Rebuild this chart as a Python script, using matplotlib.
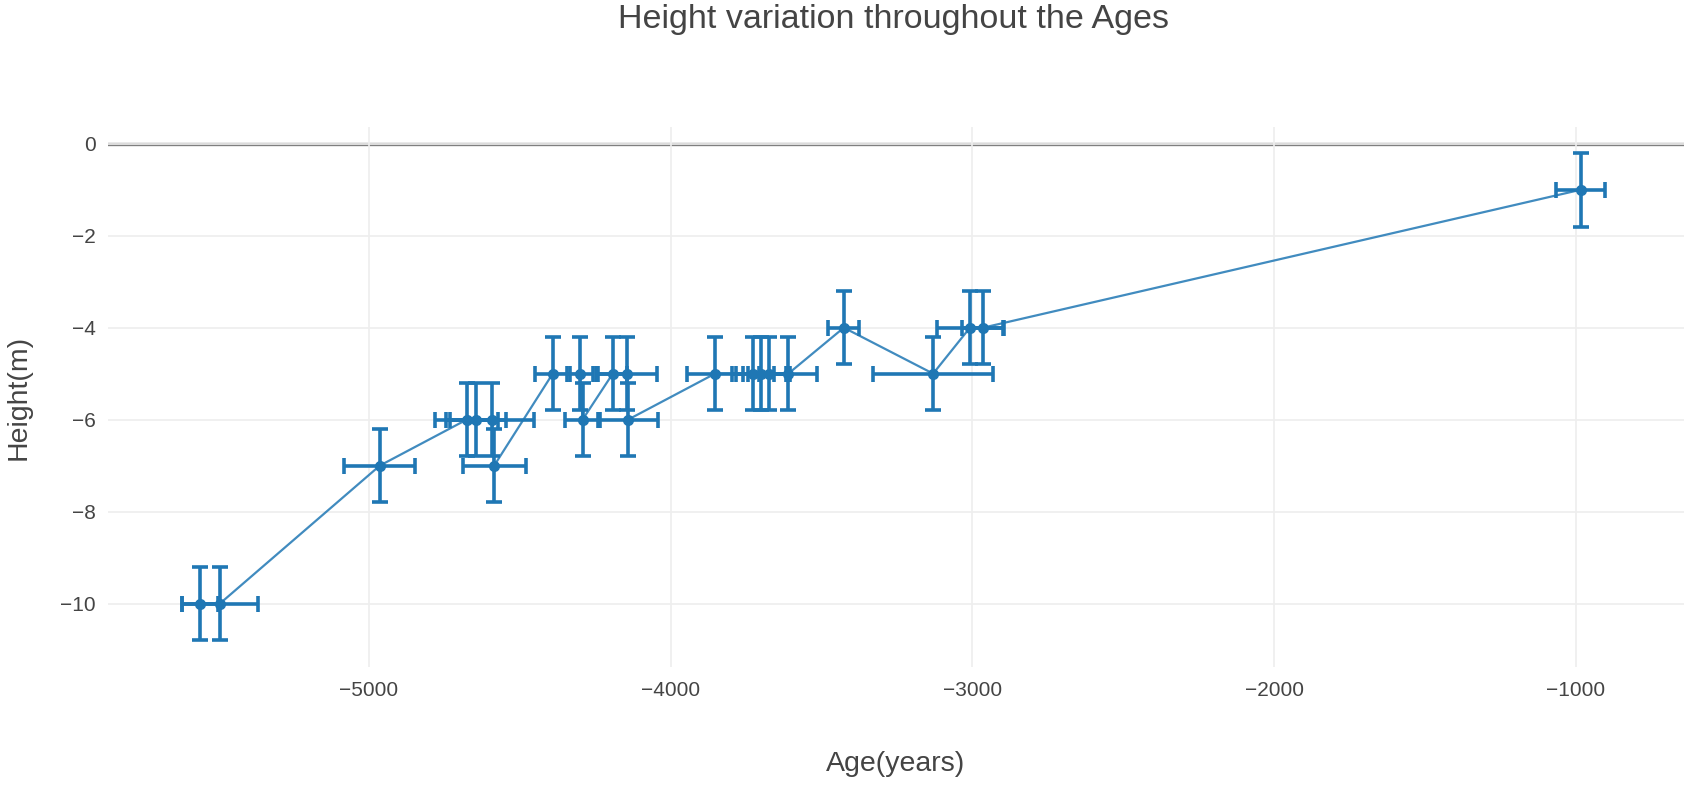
import numpy as np
import matplotlib.pyplot as plt

plt.rcParams['font.family'] = ['Liberation Sans', 'DejaVu Sans']

# ages (years) and heights (m), sorted by age
ages = [-5560, -5494, -4964, -4676, -4645, -4592, -4585, -4391, -4301, -4292,
        -4192, -4146, -4141, -3853, -3728, -3701, -3674, -3610, -3426, -3130,
        -3008, -2964, -983]
heights = [-10, -10, -7, -6, -6, -6, -7, -5, -5, -6,
           -5, -5, -6, -5, -5, -5, -5, -5, -4, -5,
           -4, -4, -1]
age_err = [60, 125, 118, 105, 100, 140, 104, 58, 44, 59,
           48, 100, 100, 94, 70, 83, 70, 96, 51, 200,
           110, 70, 81]
height_err = [0.8] * len(ages)

text_col = '#444444'
blue = '#1f77b4'

fig = plt.figure(figsize=(16.93, 7.9), dpi=100)
ax = fig.add_axes([0.0638, 0.1557, 0.9309, 0.6833])

ax.errorbar(ages, heights, xerr=age_err, yerr=height_err, fmt='none',
            ecolor=blue, elinewidth=2.6, capsize=6, capthick=2.6, zorder=3)
ax.plot(ages, heights, color=blue, lw=1.6, alpha=0.85, zorder=4)
ax.plot(ages, heights, 'o', color=blue, markersize=7, zorder=5)

ax.set_xlim(-5865, -641)
ax.set_ylim(-11.38, 0.36)
ax.set_xticks([-5000, -4000, -3000, -2000, -1000])
ax.set_yticks([0, -2, -4, -6, -8, -10])
ax.grid(True, color='#eeeeee', lw=1.2, zorder=0)
ax.axhline(0, color='#7f7f7f', lw=2.4, zorder=1)

for s in ax.spines.values():
    s.set_visible(False)
ax.tick_params(length=0, labelsize=15, labelcolor=text_col)
ax.tick_params(axis='x', pad=10)
ax.tick_params(axis='y', pad=9)

ax.set_xlabel('Age(years)', fontsize=20.5, color=text_col, labelpad=37)
ax.set_ylabel('Height(m)', fontsize=20.5, color=text_col, labelpad=20)
fig.text(0.528, 0.975, 'Height variation throughout the Ages',
         ha='center', va='center', fontsize=24.5, color=text_col)

fig.savefig('out.png', dpi=100, facecolor='white')
